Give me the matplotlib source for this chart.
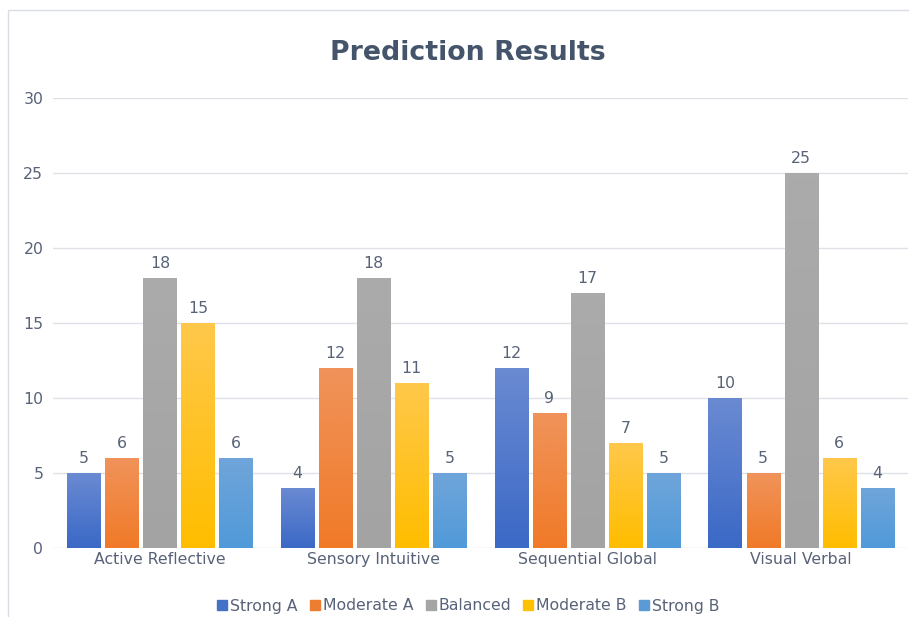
import numpy as np
import matplotlib
matplotlib.use("Agg")
from matplotlib import pyplot as plt
from matplotlib.colors import to_rgb, LinearSegmentedColormap
from matplotlib.patches import Rectangle
from matplotlib.lines import Line2D

categories = ["Active Reflective", "Sensory Intuitive", "Sequential Global", "Visual Verbal"]
series_names = ["Strong A", "Moderate A", "Balanced", "Moderate B", "Strong B"]
strong_a = [5, 4, 12, 10]
moderate_a = [6, 12, 9, 5]
balanced = [18, 18, 17, 25]
moderate_b = [15, 11, 7, 6]
strong_b = [6, 5, 5, 4]
series_values = [strong_a, moderate_a, balanced, moderate_b, strong_b]

# (top colour, bottom colour) of each vertical gradient
gradients = [("#6a8ad2", "#3b69c6"),
             ("#f0935a", "#f07a28"),
             ("#ababab", "#a3a3a3"),
             ("#ffc84a", "#ffbd00"),
             ("#6fa5da", "#519ad9")]
legend_colors = ["#4472c4", "#ed7d31", "#a5a5a5", "#ffc000", "#5b9bd5"]

text_color = "#586278"
title_color = "#44546a"
grid_color = "#dfe1e6"
fs = 11.3

fig = plt.figure(figsize=(9.09, 6.17), dpi=100)
ax = fig.add_axes([53 / 909, 1 - 548 / 617, 855 / 909, 450 / 617])

# chart frame
fig.patches.append(Rectangle((8 / 909, -0.1), 1.2, 1 - 10 / 617 + 0.1,
                             transform=fig.transFigure, fill=False,
                             edgecolor="#d9dce3", linewidth=1.0))

x = np.arange(len(categories))
step = 0.178
width = 0.155
for i, (vals, (top, bottom)) in enumerate(zip(series_values, gradients)):
    pos = x + (i - 2) * step
    bars = ax.bar(pos, vals, width, color="none", edgecolor="none", zorder=3)
    cmap = LinearSegmentedColormap.from_list("g%d" % i, [to_rgb(bottom), to_rgb(top)])
    for rect, v in zip(bars, vals):
        grad = np.linspace(0, 1, 64).reshape(-1, 1)
        x0 = rect.get_x()
        ax.imshow(grad, cmap=cmap, aspect="auto", origin="lower",
                  extent=(x0, x0 + rect.get_width(), 0, v), zorder=3)
        ax.text(rect.get_x() + rect.get_width() / 2, v + 0.45, str(v),
                ha="center", va="bottom", fontsize=fs, color=text_color, zorder=4)

ax.set_xlim(-0.5, len(categories) - 0.5)
ax.set_ylim(0, 30)
ax.set_yticks(range(0, 31, 5))
ax.set_xticks(x)
ax.set_xticklabels(categories)
ax.grid(axis="y", color=grid_color, linewidth=1.0, zorder=0)
ax.set_axisbelow(True)
for s in ax.spines.values():
    s.set_visible(False)
ax.tick_params(length=0, labelsize=fs, colors=text_color)
ax.tick_params(axis="y", pad=7)
ax.tick_params(axis="x", pad=3)

fig.text(468 / 909, 1 - 53 / 617, "Prediction Results", ha="center", va="center",
         fontsize=19.3, fontweight="bold", color=title_color)

handles = [Line2D([], [], marker="s", linestyle="none", markersize=7,
                  markerfacecolor=c, markeredgecolor=c) for c in legend_colors]
fig.legend(handles, series_names, loc="center", bbox_to_anchor=(467 / 909, 1 - 606 / 617),
           ncol=5, frameon=False, fontsize=fs, labelcolor=text_color,
           handletextpad=0.0, columnspacing=0.6, handlelength=1.0)

fig.savefig("out.png", dpi=100, facecolor="white")
